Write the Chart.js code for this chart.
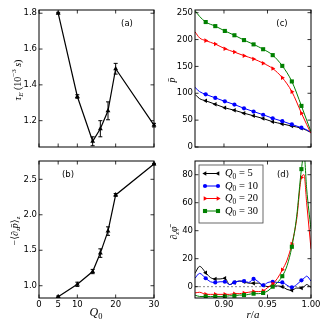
<!DOCTYPE html>
<html>
<head>
<meta charset="utf-8">
<script src="https://cdn.jsdelivr.net/npm/chart.js@4.4.1/dist/chart.umd.min.js"></script>
<style>
  body { margin: 0; background: #fff; }
  #wrap { position: relative; width: 330px; height: 330px; }
  #wrap canvas { position: absolute; left: 0; top: 0; }
</style>
</head>
<body>
<div id="wrap">
  <canvas id="tauE" width="330" height="330"></canvas>
  <canvas id="gradP" width="330" height="330"></canvas>
  <canvas id="profP" width="330" height="330"></canvas>
  <canvas id="dPhi" width="330" height="330"></canvas>
</div>
<script>
// (a), (b): scan over Q0
const q0 = [5, 10, 14, 16, 18, 20, 30];
const tauE = [1.80, 1.335, 1.085, 1.155, 1.255, 1.49, 1.175];
const tauErr = [0.005, 0.01, 0.025, 0.045, 0.05, 0.03, 0.01];
const gradP = [0.845, 1.02, 1.20, 1.46, 1.77, 2.28, 2.715];
const gradErr = [0.01, 0.03, 0.03, 0.06, 0.06, 0.02, 0.01];
const q0Ticks = [0, 5, 10, 20, 30];
const tauTicks = [1.2, 1.4, 1.6, 1.8];
const gradTicks = [1.0, 1.5, 2.0, 2.5];

// (c), (d): radial profiles for Q0 = 5, 10, 20, 30
const seriesQ0 = [5, 10, 20, 30];
const rMark = [0.879, 0.890, 0.901, 0.912, 0.923, 0.934, 0.945, 0.956, 0.967, 0.978, 0.989];
const rC = [0.8667, 0.872, 0.879, 0.890, 0.901, 0.912, 0.923, 0.934, 0.945, 0.956, 0.967, 0.978, 0.989, 0.995, 1.0];
const pBar5  = [98, 90, 86, 79.6, 73, 68.4, 63, 58, 53, 47, 43, 39, 35, 31, 27];
const pBar10 = [111, 103, 98, 91.4, 85, 79, 72, 66, 60, 53.5, 48, 42, 36, 32, 27];
const pBar20 = [214.5, 203, 198, 191.6, 183, 176.6, 170, 164, 156, 146, 129, 103, 63, 42, 25.5];
const pBar30 = [254, 243, 232.6, 225, 216, 208, 199, 191, 182, 171, 151, 122, 76.5, 50, 28.5];
const rD = [0.8667, 0.872, 0.879, 0.8845, 0.890, 0.8955, 0.901, 0.9065, 0.912, 0.9175, 0.923, 0.9285, 0.934,
            0.9395, 0.945, 0.9505, 0.956, 0.9615, 0.967, 0.9725, 0.978, 0.9835, 0.989, 0.992, 0.995, 1.0];
const dPhi5  = [9.5, 14.5, 10, 6.5, 5.5, 5.5, 6, 1.5, 3, 4, 3.5, 2.5, 2.5, 2.5, 1, 0, 0.5, 0.5, 0, -2, -2.5, -1, -1, 0, 1.5, -0.5];
const dPhi10 = [6, 9.5, 6, 3.5, 3, 3.5, 3.5, 1.5, 3, 4, 4, 3, 5.5, 3.5, 1, 3, 3.5, 3, 3, 1, -0.5, 1.5, 4.5, 6, 7.5, 4];
const dPhi20 = [-4.5, -4, -5.5, -5.5, -5.5, -5.5, -5.5, -5.5, -5, -5, -4.5, -4, -3.5, -3.5, -3, -0.5, 2, 6, 12, 19, 30.5, 48, 78, 80, 60, 27];
const dPhi30 = [-6, -7, -7, -7, -7, -7, -7, -6.5, -6.5, -6, -6, -5.5, -5, -5, -4.5, -3, 0, 3, 7.5, 15, 28.5, 50, 84, 95, 70, 41];
const rTicks = [0.90, 0.95, 1.00];
const pTicks = [0, 50, 100, 150, 200, 250];
const dTicks = [0, 20, 40, 60, 80];
const zeroLevel = 0;

const SANS = '"DejaVu Sans", sans-serif';
const SERIF = '"Liberation Serif", "DejaVu Serif", serif';
Chart.defaults.font.family = SANS;
Chart.defaults.font.size = 8.5;
Chart.defaults.color = '#000';

const COLORS = ['#000000', '#0000ff', '#ff0000', '#008000'];
const SHAPES = [
  { style: 'triangle', rot: -90, r: 2.6 },
  { style: 'circle', rot: 0, r: 2.1 },
  { style: 'triangle', rot: 90, r: 2.6 },
  { style: 'rect', rot: 0, r: 2.9 }
];

function drawRich(ctx, segs, x, y, rot, size, align) {
  const parts = segs.map(s => {
    const fs = s.sub || s.sup ? size * 0.7 : size;
    const font = (s.it ? 'italic ' : '') + fs + 'px ' + (s.sans ? SANS : SERIF);
    ctx.font = font;
    return { t: s.t, font, w: ctx.measureText(s.t).width, dy: s.sub ? size * 0.3 : s.sup ? -size * 0.4 : 0 };
  });
  const total = parts.reduce((a, p) => a + p.w, 0);
  ctx.save();
  ctx.translate(x, y);
  ctx.rotate(rot * Math.PI / 180);
  ctx.fillStyle = '#000';
  ctx.textAlign = 'left';
  ctx.textBaseline = 'middle';
  let cx = align === 'left' ? 0 : -total / 2;
  parts.forEach(p => { ctx.font = p.font; ctx.fillText(p.t, cx, p.dy); cx += p.w; });
  ctx.restore();
}

function marker(ctx, shape, color, x0, y0) {
  ctx.save();
  ctx.translate(x0, y0);
  ctx.rotate(shape.rot * Math.PI / 180);
  ctx.fillStyle = color;
  ctx.beginPath();
  const r = shape.r;
  if (shape.style === 'circle') ctx.arc(0, 0, r, 0, 2 * Math.PI);
  else if (shape.style === 'rect') { const s = r * Math.SQRT1_2; ctx.rect(-s, -s, 2 * s, 2 * s); }
  else { ctx.moveTo(0, -r); ctx.lineTo(r * 0.866, r * 0.5); ctx.lineTo(-r * 0.866, r * 0.5); ctx.closePath(); }
  ctx.fill();
  ctx.restore();
}

function decor(cfg) {
  return {
    id: 'decor',
    afterDatasetsDraw(chart) {
      const { ctx, scales: { x, y } } = chart;
      if (!cfg.err) return;
      const { xs, ys, es } = cfg.err;
      ctx.save();
      ctx.strokeStyle = '#000';
      ctx.lineWidth = 1;
      xs.forEach((v, i) => {
        const px = x.getPixelForValue(v);
        const p1 = y.getPixelForValue(ys[i] - es[i]);
        const p2 = y.getPixelForValue(ys[i] + es[i]);
        ctx.beginPath();
        ctx.moveTo(px, p1); ctx.lineTo(px, p2);
        ctx.moveTo(px - 2, p1); ctx.lineTo(px + 2, p1);
        ctx.moveTo(px - 2, p2); ctx.lineTo(px + 2, p2);
        ctx.stroke();
      });
      ctx.restore();
    },
    afterDraw(chart) {
      const { ctx, chartArea: a, scales: { x, y } } = chart;
      ctx.save();
      ctx.strokeStyle = '#000';
      ctx.lineWidth = 0.8;
      ctx.beginPath();
      x.ticks.forEach(t => {
        const px = x.getPixelForValue(t.value);
        ctx.moveTo(px, a.bottom); ctx.lineTo(px, a.bottom - 3.5);
        ctx.moveTo(px, a.top); ctx.lineTo(px, a.top + 3.5);
      });
      y.ticks.forEach(t => {
        const py = y.getPixelForValue(t.value);
        ctx.moveTo(a.left, py); ctx.lineTo(a.left + 3.5, py);
        ctx.moveTo(a.right, py); ctx.lineTo(a.right - 3.5, py);
      });
      ctx.stroke();
      ctx.lineWidth = 1;
      ctx.strokeRect(a.left, a.top, a.right - a.left, a.bottom - a.top);
      ctx.restore();

      if (cfg.legend) {
        const L = cfg.legend;
        ctx.save();
        ctx.fillStyle = '#fff';
        ctx.fillRect(L.x, L.y, L.w, L.h);
        ctx.strokeStyle = '#444';
        ctx.lineWidth = 0.8;
        ctx.strokeRect(L.x, L.y, L.w, L.h);
        seriesQ0.forEach((q, i) => {
          const yy = L.y + 8.5 + i * 12.5;
          ctx.strokeStyle = COLORS[i];
          ctx.lineWidth = 1;
          ctx.beginPath(); ctx.moveTo(L.x + 6, yy); ctx.lineTo(L.x + 19, yy); ctx.stroke();
          marker(ctx, SHAPES[i], COLORS[i], L.x + 6, yy);
          marker(ctx, SHAPES[i], COLORS[i], L.x + 19, yy);
          drawRich(ctx, [{ t: 'Q', it: true }, { t: '0', sub: true }, { t: ' = ' + q }], L.x + 26, yy, 0, 10.5, 'left');
        });
        ctx.restore();
      }
      (cfg.texts || []).forEach(t => drawRich(ctx, t.segs, t.x, t.y, t.rot || 0, t.size || 9, 'center'));
    }
  };
}

function scaleSet(xr, yr, xTicks, yTicks, xFmt, yFmt, showX) {
  return {
    x: {
      type: 'linear', min: xr[0], max: xr[1],
      grid: { display: false, drawTicks: false }, border: { display: false },
      afterBuildTicks: s => { s.ticks = xTicks.map(v => ({ value: v })); },
      ticks: { display: showX, padding: 2, maxRotation: 0, autoSkip: false, callback: v => xFmt(v) },
      afterFit: s => { s.height = showX ? 14 : 0; }
    },
    y: {
      type: 'linear', min: yr[0], max: yr[1],
      grid: { display: false, drawTicks: false }, border: { display: false },
      afterBuildTicks: s => { s.ticks = yTicks.map(v => ({ value: v })); },
      ticks: { padding: 2, autoSkip: false, callback: v => yFmt(v) },
      afterFit: s => { s.width = 30; }
    }
  };
}

function panel(id, box, showX, scales, datasets, cfg) {
  return new Chart(document.getElementById(id), {
    type: 'line',
    data: { datasets },
    options: {
      responsive: false, animation: false, events: [],
      layout: { padding: { left: box[0] - 30, top: box[1], right: 330 - box[2], bottom: 330 - box[3] - (showX ? 14 : 0) } },
      plugins: { legend: { display: false }, tooltip: { enabled: false } },
      scales
    },
    plugins: [decor(cfg)]
  });
}

function scanSet(ys) {
  return [{
    data: q0.map((q, i) => ({ x: q, y: ys[i] })),
    borderColor: '#000', backgroundColor: '#000', borderWidth: 1.2,
    pointStyle: 'triangle', pointRadius: 2.8, pointBorderWidth: 0, tension: 0, clip: 6
  }];
}

function profileSets(xs, ys) {
  return ys.map((vals, i) => ({
    data: xs.map((r, k) => ({ x: r, y: vals[k] })),
    borderColor: COLORS[i], backgroundColor: COLORS[i], borderWidth: 1,
    cubicInterpolationMode: 'monotone',
    pointStyle: SHAPES[i].style, pointRotation: SHAPES[i].rot,
    pointRadius: c => rMark.includes(xs[c.dataIndex]) ? SHAPES[i].r : 0,
    pointBorderWidth: 0, order: 4 - i
  }));
}

const fmt0 = v => String(v);
const fmt1 = v => v.toFixed(1);
const fmt2 = v => v.toFixed(2);

panel('tauE', [39, 10, 154, 147], false,
  scaleSet([0, 30], [1.053, 1.818], q0Ticks, tauTicks, fmt0, fmt1, false),
  scanSet(tauE),
  {
    err: { xs: q0, ys: tauE, es: tauErr },
    texts: [
      { segs: [{ t: '(a)', sans: true }], x: 127, y: 24, size: 8.5 },
      { segs: [{ t: 'τ', it: true }, { t: 'E', it: true, sub: true }, { t: ' (10' }, { t: '−3', sup: true }, { t: ' ' }, { t: 's', it: true }, { t: ')' }], x: 18, y: 80, rot: -90, size: 10 }
    ]
  });

panel('gradP', [39, 161, 154, 298], true,
  scaleSet([0, 30], [0.827, 2.758], q0Ticks, gradTicks, fmt0, fmt1, true),
  scanSet(gradP),
  {
    err: { xs: q0, ys: gradP, es: gradErr },
    texts: [
      { segs: [{ t: '(b)', sans: true }], x: 68, y: 175, size: 8.5 },
      { segs: [{ t: 'Q', it: true }, { t: '0', sub: true }], x: 96, y: 313, size: 12 },
      { segs: [{ t: '−⟨∂' }, { t: 'z', it: true, sub: true }, { t: 'p̄', it: true }, { t: '⟩' }, { t: 'z', it: true, sub: true }], x: 15, y: 231, rot: -90, size: 10 }
    ]
  });

panel('profP', [195, 10, 311, 147], false,
  scaleSet([0.8667, 1.0], [0, 255], rTicks, pTicks, fmt2, fmt0, false),
  profileSets(rC, [pBar5, pBar10, pBar20, pBar30]),
  {
    texts: [
      { segs: [{ t: '(c)', sans: true }], x: 282, y: 24, size: 8.5 },
      { segs: [{ t: 'p̄', it: true }], x: 172, y: 80, rot: -90, size: 10 }
    ]
  });

const zeroSet = {
  data: [{ x: rD[0], y: zeroLevel }, { x: rD[rD.length - 1], y: zeroLevel }],
  borderColor: '#888', borderWidth: 1, borderDash: [2, 2], pointRadius: 0, order: 10
};

panel('dPhi', [195, 161, 311, 298], true,
  scaleSet([0.8667, 1.0], [-8.1, 89.8], rTicks, dTicks, fmt2, fmt0, true),
  [zeroSet].concat(profileSets(rD, [dPhi5, dPhi10, dPhi20, dPhi30])),
  {
    legend: { x: 199, y: 165, w: 64, h: 58 },
    texts: [
      { segs: [{ t: '(d)', sans: true }], x: 283, y: 175, size: 8.5 },
      { segs: [{ t: 'r', it: true }, { t: '/' }, { t: 'a', it: true }], x: 253, y: 315, size: 11 },
      { segs: [{ t: '∂' }, { t: 'z', it: true, sub: true }, { t: 'φ̄', it: true }], x: 174, y: 233, rot: -90, size: 10 }
    ]
  });
</script>
</body>
</html>
